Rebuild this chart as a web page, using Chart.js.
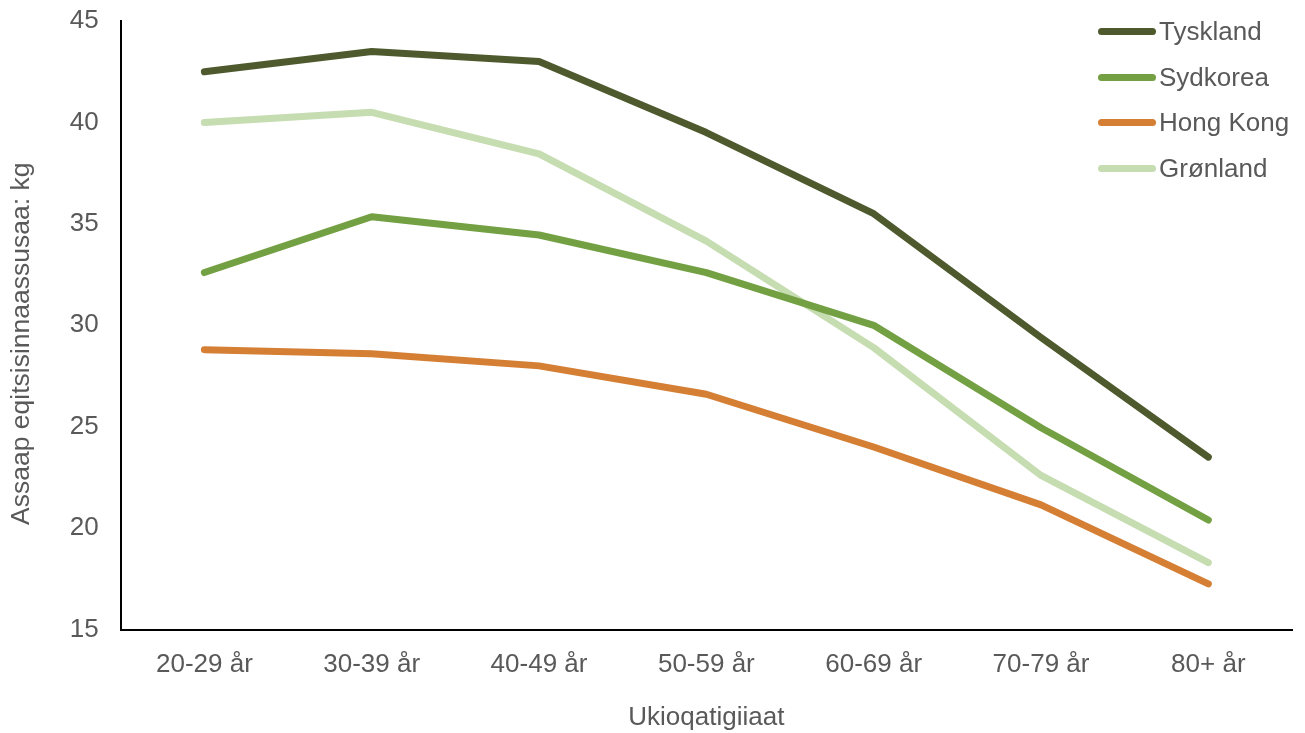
<!DOCTYPE html>
<html>
<head>
<meta charset="utf-8">
<script src="https://cdn.jsdelivr.net/npm/chart.js@4/dist/chart.umd.min.js"></script>
<style>
    html, body { margin: 0; padding: 0; background: #fff; }
    #wrap { position: relative; width: 1305px; height: 733px; }
    #legend {
        position: absolute; left: 1098px; top: 9px;
        font-family: "Liberation Sans", Arial, sans-serif; font-size: 26px; color: #595959;
    }
    .item { display: flex; align-items: center; height: 45.5px; }
    .swatch { width: 58px; height: 7px; border-radius: 4px; margin-right: 3px; }
</style>
</head>
<body>
<div id="wrap">
    <canvas id="chart" width="1305" height="733"></canvas>
    <div id="legend"></div>
</div>
<script>
// data
const ageGroups = ['20-29 år', '30-39 år', '40-49 år', '50-59 år', '60-69 år', '70-79 år', '80+ år'];
const tyskland = [42.5, 43.5, 43.0, 39.5, 35.5, 29.4, 23.5];
const sydkorea = [32.6, 35.35, 34.45, 32.6, 30.0, 24.95, 20.4];
const hongKong = [28.8, 28.6, 28.0, 26.6, 24.0, 21.15, 17.25];
const groenland = [40.0, 40.5, 38.45, 34.15, 28.9, 22.6, 18.3];
const seriesNames = ['Tyskland', 'Sydkorea', 'Hong Kong', 'Grønland'];
const seriesColors = ['#4e5a2e', '#72a043', '#d57f35', '#c6dcb1'];

const fontFamily = '"Liberation Sans", Arial, sans-serif';
const textColor = '#595959';

const datasets = [tyskland, sydkorea, hongKong, groenland].map((values, i) => ({
    label: seriesNames[i],
    data: values,
    borderColor: seriesColors[i],
    backgroundColor: seriesColors[i],
    borderWidth: 7,
    pointRadius: 0,
    borderCapStyle: 'round',
    borderJoinStyle: 'round',
    tension: 0,
    order: i // Tyskland drawn on top
}));

// legend
const legendEl = document.getElementById('legend');
legendEl.innerHTML = seriesNames.map((name, i) => `
    <div class="item"><div class="swatch" style="background:${seriesColors[i]}"></div>${name}</div>
`).join('');

new Chart(document.getElementById('chart').getContext('2d'), {
    type: 'line',
    data: { labels: ageGroups, datasets: datasets },
    options: {
        responsive: false,
        animation: false,
        layout: { padding: { top: 0, right: 13, left: 6, bottom: 0 } },
        plugins: {
            legend: { display: false },
            tooltip: { enabled: false }
        },
        scales: {
            x: {
                offset: true,
                grid: { display: false, drawTicks: false },
                border: { display: true, color: '#000', width: 2 },
                ticks: { color: textColor, font: { family: fontFamily, size: 26 }, padding: 20, maxRotation: 0 },
                title: { display: true, text: 'Ukioqatigiiaat', color: textColor, font: { family: fontFamily, size: 26 }, padding: { top: 1, bottom: 0 } }
            },
            y: {
                min: 15,
                max: 45,
                ticks: { stepSize: 5, color: textColor, font: { family: fontFamily, size: 26 }, padding: 22 },
                grid: { display: false, drawTicks: false },
                border: { display: true, color: '#000', width: 2 },
                // trailing spaces push the visible title a bit lower, as in the original
                title: { display: true, text: 'Assaap eqitsisinnaassusaa: kg\u00a0\u00a0\u00a0\u00a0\u00a0', color: textColor, font: { family: fontFamily, size: 26.5 }, padding: { top: 0, bottom: 10 } },
                // the "45" label needs less room above the plot than Chart.js reserves
                afterFit: scale => { scale.paddingTop = 21; }
            }
        }
    }
});
</script>
</body>
</html>
